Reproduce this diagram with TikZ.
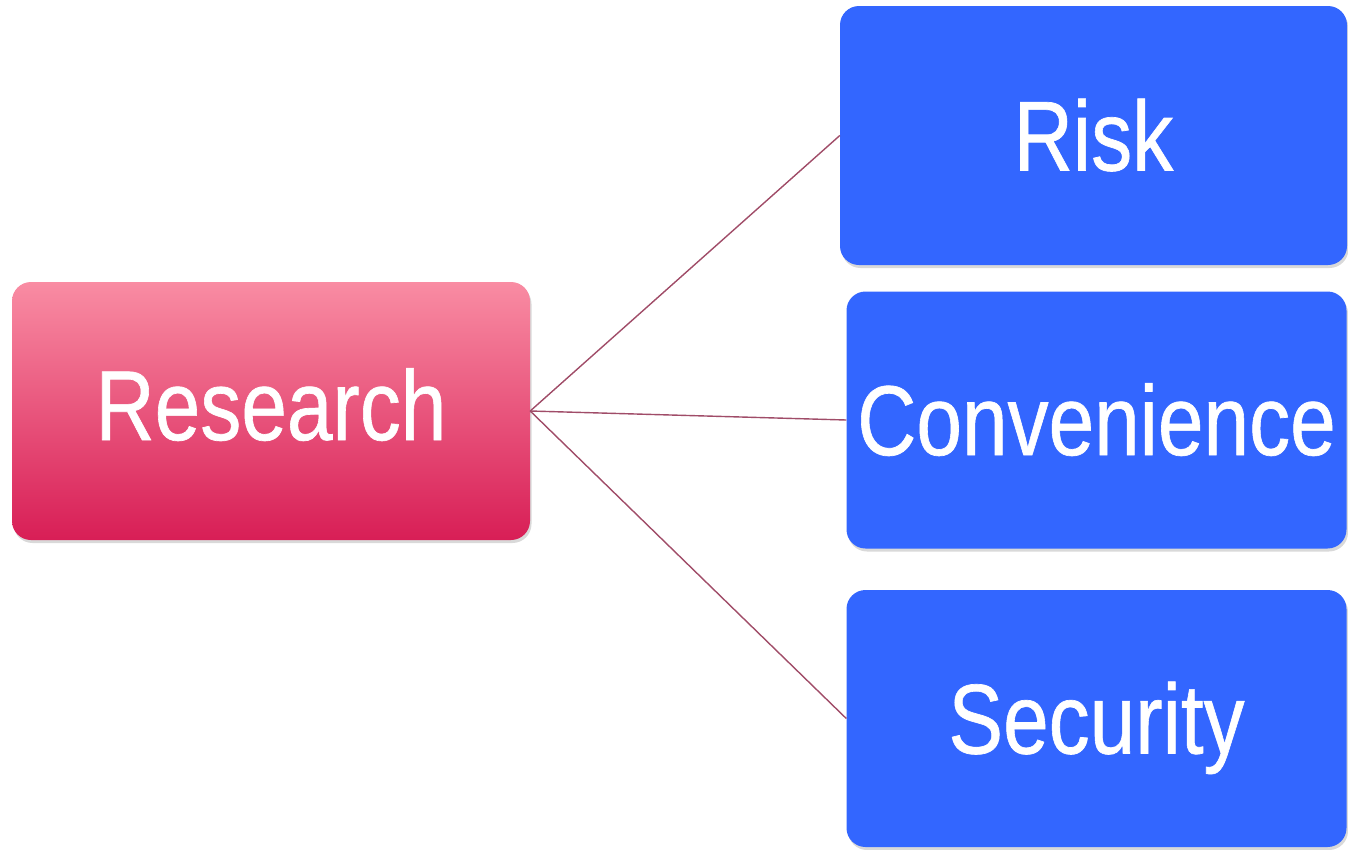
\documentclass[tikz,border=0pt]{standalone}
\usepackage{fontspec}
\usepackage{graphicx}
\setmainfont{Liberation Sans}
\newfontfamily\labelfont{Liberation Sans}[RawFeature={embolden=0.7}]
\usetikzlibrary{shadows}
\definecolor{boxblue}{HTML}{3366FF}
\definecolor{pinktop}{HTML}{F98CA3}
\definecolor{pinkmid}{HTML}{EC6787}
\definecolor{pinkbot}{HTML}{D81E56}
\definecolor{linkred}{HTML}{A04C68}
\newcommand{\tallword}[1]{\scalebox{1}[1.21]{#1}}
\tikzset{
  topicbox/.style={rounded corners=19pt,text=white,inner sep=0pt,
    font=\labelfont\fontsize{82}{90}\selectfont,text height=70pt,text depth=0pt,
    drop shadow={opacity=0.3,shadow xshift=1.5pt,shadow yshift=-3pt}},
  itembox/.style={topicbox,fill=boxblue,minimum width=500pt,minimum height=257pt},
  link/.style={linkred,line width=1.4pt}
}
\begin{document}
\begin{tikzpicture}[x=1pt,y=-1pt]
\useasboundingbox (0,0) rectangle (1348,849);

% main topic
\node[topicbox,top color=pinktop,middle color=pinkmid,bottom color=pinkbot,
  minimum width=518pt,minimum height=258pt,text height=58pt] (research) at (271,411) {\tallword{Research}};

% items
\node[itembox,minimum width=507pt,minimum height=259pt] (risk) at (1093.5,135.5) {\tallword{Risk}};
\node[itembox] (convenience) at (1096.5,420) {\tallword{Convenience}};
\node[itembox] (security) at (1096.5,718.5) {\tallword{Security}};

% links
\draw[link] (research.east) -- (risk.west);
\draw[link] (research.east) -- (convenience.west);
\draw[link] (research.east) -- (security.west);
\end{tikzpicture}
\end{document}
